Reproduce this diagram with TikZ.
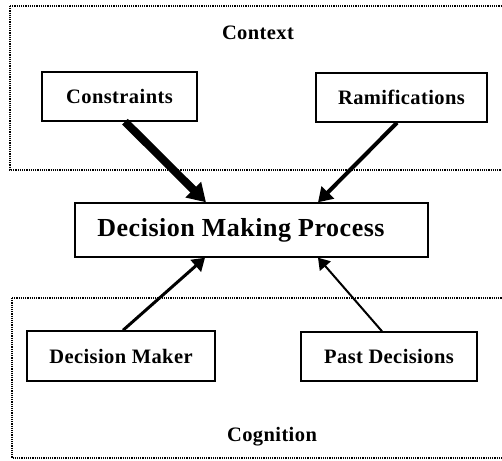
\documentclass[tikz,border=0pt]{standalone}
\usepackage{fontspec}
\setmainfont{Liberation Serif}[LetterSpace=2.0]
\usetikzlibrary{arrows.meta}
\begin{document}
\begin{tikzpicture}[x=1pt,y=-1pt,
  region/.style={draw, densely dotted, line width=1.2pt},
  label/.style={font=\bfseries\fontsize{20.5}{24}\selectfont},
  box/.style={draw, line width=1.7pt, fill=white, inner sep=0pt, label},
  link/.style={-{Triangle[length=#1*4pt+6pt, width=#1*4pt+9pt]}},
]
\useasboundingbox (0,0) rectangle (502,460);
% regions
\draw[region] (10,6) -- (502,6);
\draw[region] (10,6) -- (10,170) -- (502,170);
\draw[region] (12,298) -- (502,298);
\draw[region] (12,298) -- (12,458) -- (502,458);
\node[label] (ctx) at (258,33) {Context};
\node[label] (cog) at (272,437) {Cognition};
% boxes
\node[box, minimum width=155pt, minimum height=49pt] (con) at (119.5,96.5) {Constraints};
\node[box, minimum width=171pt, minimum height=49pt] (ram) at (401.5,97.5) {Ramifications};
\node[box, minimum width=353pt, minimum height=54pt] (dmp) at (251.5,230) {};
\node[font=\bfseries\fontsize{26}{30}\selectfont] (dmpt) at (241,230) {Decision Making Process};
\node[box, minimum width=188pt, minimum height=50pt] (dm) at (121,356) {Decision Maker};
\node[box, minimum width=176pt, minimum height=49pt] (pd) at (389,356.5) {Past Decisions};
% connectors
\coordinate (a1) at (125,121.7);
\coordinate (b1) at (206,202.3);
\coordinate (a2) at (397,122.7);
\coordinate (b2) at (318,202.3);
\coordinate (a3) at (123,330.3);
\coordinate (b3) at (205,257.7);
\coordinate (a4) at (382,331.3);
\coordinate (b4) at (318,257.7);
\draw[link=3, line width=8pt] (a1) -- (b1);
\draw[link=2, line width=4pt] (a2) -- (b2);
\draw[link=1.6, line width=3pt] (a3) -- (b3);
\draw[link=1.3, line width=2pt] (a4) -- (b4);
\end{tikzpicture}
\end{document}
